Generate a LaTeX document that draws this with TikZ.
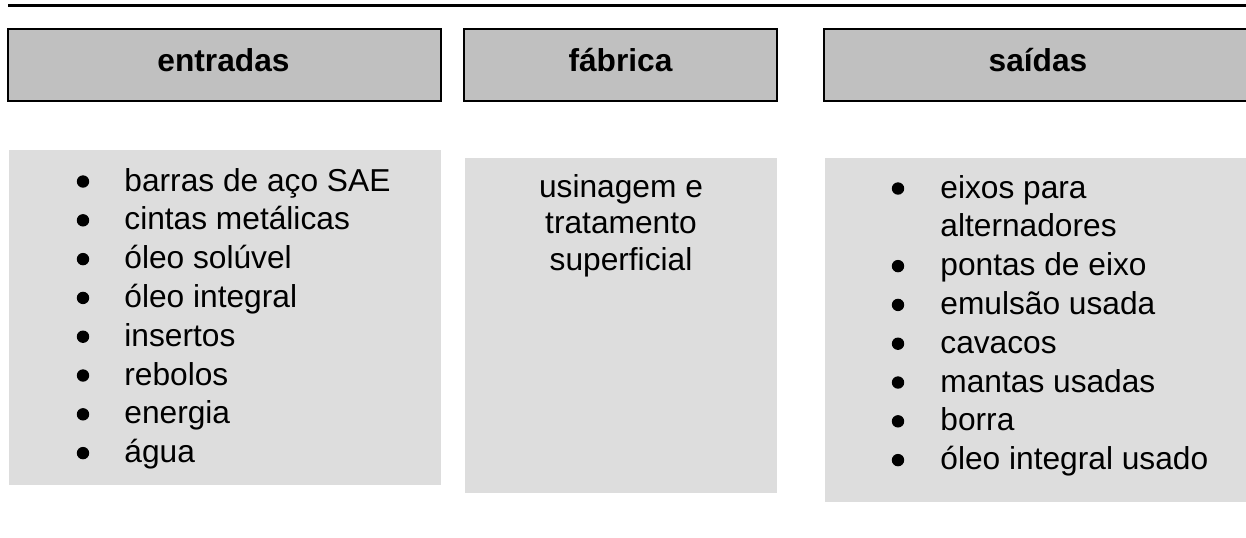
\documentclass[tikz,border=0pt]{standalone}
\usepackage{fontspec}
\setmainfont{Liberation Sans}
\definecolor{headGray}{RGB}{192,192,192}
\definecolor{listGray}{RGB}{221,221,221}

\begin{document}
\begin{tikzpicture}
[x=0.5pt,y=-0.5pt,
  headDecorate/.style={draw=black,line width=0.8pt,fill=headGray},%
  listDecorate/.style={fill=listGray},
  headText/.style={anchor=base,inner sep=0pt,font=\fontsize{15.85}{19}\selectfont\bfseries},
  itemText/.style={anchor=base west,inner sep=0pt,font=\fontsize{15.85}{19}\selectfont},
  midText/.style={anchor=base,inner sep=0pt,font=\fontsize{15.85}{19}\selectfont},
  dotDecorate/.style={shape=circle,fill=black,inner sep=0pt,minimum size=6.2pt}]
\useasboundingbox (0,0) rectangle (1246,537);
%% rule on top
\draw[line width=1.6pt] (8,5.3) -- (1246,5.3);
%% header boxes
\path[headDecorate] (8,29) rectangle (441,101);
\path[headDecorate] (464,29) rectangle (777,101);
\path[headDecorate] (824,29) rectangle (1262,101);
\node (entradas) at (223.5,71.7) [headText] {entradas};
\node (fabrica) at (620.5,71.7) [headText] {fábrica};
\node (saidas) at (1038,71.7) [headText] {saídas};
%% content boxes
\path[listDecorate] (9,150) rectangle (441,485);
\path[listDecorate] (465,158) rectangle (777,493);
\path[listDecorate] (825,158) rectangle (1262,502);
%% entradas list
\foreach \i/\txt in {
  0/barras de aço SAE, 1/cintas metálicas, 2/óleo solúvel, 3/óleo integral,
  4/insertos, 5/rebolos, 6/energia, 7/água}
{
  \node (in\i) at (124,{191+38.8*\i}) [itemText] {\txt};
  \node (inDot\i) at (83,{181.5+38.8*\i}) [dotDecorate] {};
}
%% fabrica text
\foreach \i/\txt in {0/usinagem e, 1/tratamento, 2/superficial}
{
  \node (proc\i) at (621,{197.5+36.3*\i}) [midText] {\txt};
}
%% saidas list
\foreach \i/\txt in {
  0/eixos para, 1/alternadores, 2/pontas de eixo, 3/emulsão usada,
  4/cavacos, 5/mantas usadas, 6/borra, 7/óleo integral usado}
{
  \node (out\i) at (940,{198+38.8*\i}) [itemText] {\txt};
}
\foreach \i in {0,2,3,4,5,6,7}
{
  \node (outDot\i) at (898,{188.5+38.8*\i}) [dotDecorate] {};
}
\end{tikzpicture}
\end{document}
